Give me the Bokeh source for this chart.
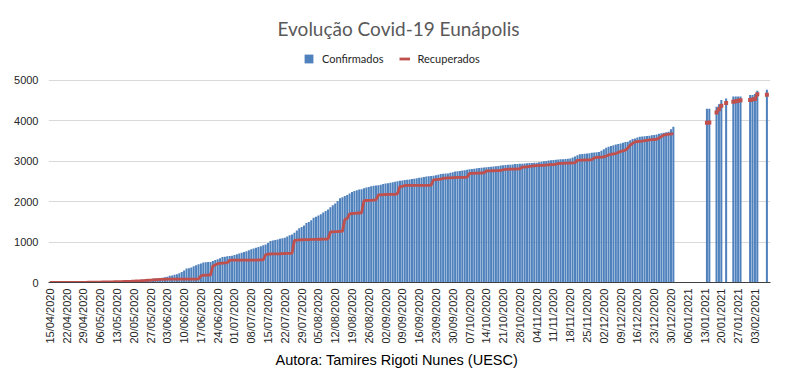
import math
import numpy as np
import pandas as pd
from bokeh.plotting import figure
from bokeh.models import FixedTicker, Legend, LegendItem, Label, ColumnDataSource, Title
from bokeh.embed import file_html
from bokeh.resources import INLINE

# ---------------- data ----------------
data_inicial = "15/04/2020"

# daily cumulative values from 15/04/2020 to 31/12/2020
confirmados = [
    1, 1, 1, 1, 2, 2, 2, 3, 3, 3,
    4, 4, 5, 5, 6, 7, 8, 9, 10, 12,
    13, 15, 16, 18, 20, 22, 24, 26, 28, 30,
    33, 36, 40, 44, 48, 52, 57, 62, 66, 70,
    75, 80, 86, 92, 98, 104, 112, 120, 130, 140,
    164, 175, 190, 205, 230, 262, 300, 344, 355, 369,
    400, 430, 451, 470, 492, 500, 505, 508, 530, 555,
    574, 600, 631, 640, 650, 656, 665, 680, 697, 715,
    735, 754, 775, 798, 820, 840, 860, 877, 900, 925,
    943, 975, 1025, 1040, 1055, 1066, 1080, 1095, 1107, 1140,
    1170, 1189, 1230, 1287, 1340, 1375, 1410, 1470, 1500, 1540,
    1600, 1630, 1660, 1692, 1730, 1770, 1808, 1860, 1910, 1958,
    2020, 2083, 2110, 2140, 2167, 2200, 2240, 2267, 2285, 2300,
    2310, 2330, 2350, 2365, 2380, 2392, 2400, 2410, 2417, 2435,
    2450, 2458, 2470, 2483, 2495, 2505, 2517, 2525, 2535, 2542,
    2550, 2560, 2567, 2580, 2592, 2600, 2610, 2625, 2630, 2636,
    2642, 2655, 2670, 2683, 2690, 2697, 2700, 2715, 2730, 2745,
    2751, 2760, 2770, 2780, 2792, 2801, 2810, 2818, 2825, 2835,
    2842, 2848, 2855, 2860, 2868, 2872, 2876, 2885, 2893, 2900,
    2908, 2912, 2917, 2922, 2930, 2935, 2938, 2942, 2945, 2950,
    2955, 2960, 2963, 2967, 2975, 2990, 3000, 3010, 3020, 3025,
    3035, 3040, 3045, 3050, 3050, 3055, 3060, 3070, 3092, 3120,
    3150, 3175, 3180, 3186, 3192, 3200, 3210, 3217, 3225, 3233,
    3260, 3300, 3333, 3360, 3380, 3400, 3415, 3430, 3442, 3460,
    3475, 3483, 3520, 3550, 3567, 3590, 3608, 3615, 3620, 3625,
    3635, 3642, 3650, 3665, 3680, 3692, 3705, 3720, 3733, 3792, 3858,
]

recuperados = [
    0, 0, 0, 0, 0, 0, 0, 0, 0, 0,
    0, 0, 2, 3, 4, 5, 6, 7, 8, 9,
    10, 11, 12, 13, 14, 15, 16, 18, 20, 22,
    24, 26, 28, 30, 32, 35, 38, 41, 44, 48,
    52, 56, 60, 64, 68, 72, 75, 78, 80, 82,
    82, 82, 82, 82, 82, 82, 82, 82, 82, 83,
    83, 83, 90, 164, 180, 183, 183, 183, 410, 433,
    467, 475, 480, 485, 490, 550, 552, 552, 553, 553,
    555, 555, 555, 555, 555, 556, 556, 558, 558, 558,
    690, 700, 705, 708, 708, 710, 712, 715, 718, 720,
    720, 722, 1041, 1050, 1055, 1058, 1060, 1060, 1062, 1065,
    1065, 1068, 1070, 1070, 1072, 1075, 1075, 1250, 1255, 1260,
    1262, 1266, 1266, 1558, 1583, 1700, 1708, 1710, 1715, 1720,
    1725, 2025, 2030, 2033, 2035, 2040, 2045, 2167, 2170, 2175,
    2178, 2180, 2181, 2183, 2183, 2200, 2375, 2378, 2400, 2405,
    2405, 2405, 2405, 2405, 2405, 2405, 2405, 2405, 2405, 2410,
    2540, 2545, 2550, 2560, 2575, 2585, 2590, 2592, 2595, 2598,
    2600, 2600, 2602, 2604, 2606, 2700, 2702, 2704, 2706, 2708,
    2710, 2712, 2760, 2762, 2764, 2766, 2768, 2770, 2772, 2790,
    2801, 2803, 2805, 2807, 2808, 2810, 2812, 2855, 2859, 2862,
    2875, 2880, 2890, 2895, 2898, 2900, 2902, 2905, 2915, 2917,
    2920, 2930, 2945, 2950, 2952, 2955, 2956, 2958, 2960, 2965,
    3025, 3028, 3030, 3032, 3033, 3035, 3040, 3083, 3095, 3100,
    3105, 3108, 3130, 3158, 3170, 3185, 3192, 3220, 3242, 3260,
    3275, 3325, 3400, 3442, 3483, 3490, 3495, 3500, 3510, 3520,
    3530, 3535, 3540, 3545, 3575, 3610, 3650, 3660, 3670, 3675, 3683,
]

# 2021 reports (irregular dates)
datas_2021 = ["14/01/2021", "15/01/2021", "18/01/2021", "19/01/2021", "20/01/2021",
              "22/01/2021", "25/01/2021", "26/01/2021", "27/01/2021", "28/01/2021",
              "01/02/2021", "02/02/2021", "03/02/2021", "04/02/2021", "08/02/2021"]
confirmados_2021 = [4300, 4300, 4350, 4410, 4520, 4555, 4605, 4605, 4605, 4605,
                    4640, 4640, 4665, 4745, 4770]
recuperados_2021 = [3955, 3958, 4208, 4290, 4375, 4442, 4475, 4485, 4497, 4508,
                    4517, 4530, 4542, 4658, 4650]

rotulos_x = ["15/04/2020", "22/04/2020", "29/04/2020", "06/05/2020", "13/05/2020",
             "20/05/2020", "27/05/2020", "03/06/2020", "10/06/2020", "17/06/2020",
             "24/06/2020", "01/07/2020", "08/07/2020", "15/07/2020", "22/07/2020",
             "29/07/2020", "05/08/2020", "12/08/2020", "19/08/2020", "26/08/2020",
             "02/09/2020", "09/09/2020", "16/09/2020", "23/09/2020", "30/09/2020",
             "07/10/2020", "14/10/2020", "21/10/2020", "28/10/2020", "04/11/2020",
             "11/11/2020", "18/11/2020", "25/11/2020", "02/12/2020", "09/12/2020",
             "16/12/2020", "23/12/2020", "30/12/2020", "06/01/2021", "13/01/2021",
             "20/01/2021", "27/01/2021", "03/02/2021"]
rotulos_y = [0, 1000, 2000, 3000, 4000, 5000]

titulo = "Evolução Covid-19 Eunápolis"
autora = "Autora: Tamires Rigoti Nunes (UESC)"

# ---------------- build ----------------
t0 = pd.to_datetime(data_inicial, format="%d/%m/%Y")
def dia(s):
    return int((pd.to_datetime(s, format="%d/%m/%Y") - t0).days)

dias_main = list(range(len(confirmados)))
dias_2021 = [dia(s) for s in datas_2021]

bar_x = dias_main + dias_2021
bar_top = confirmados + confirmados_2021

n = max(dias_2021) + 1
rec_line = np.full(n, np.nan)
for d, v in zip(dias_main, recuperados):
    rec_line[d] = v
for d, v in zip(dias_2021, recuperados_2021):
    rec_line[d] = v

ticks = [dia(s) for s in rotulos_x]

BLUE = "#4f81bd"
RED = "#c0504d"

p = figure(width=779, height=372, x_range=(-0.54, 300.5), y_range=(0, 6980),
           output_backend="svg", toolbar_location=None,
           min_border_left=48, min_border_right=9, min_border_top=0,
           min_border_bottom=90)
p.outline_line_color = None
p.background_fill_color = "white"
p.border_fill_color = "white"

bars = p.vbar(x=bar_x, top=bar_top, width=0.85, fill_color=BLUE, line_color=None)
src = ColumnDataSource(dict(x=np.arange(n), y=rec_line))
line = p.line("x", "y", source=src, line_color=RED, line_width=2.8)
p.scatter(x=dias_2021, y=recuperados_2021, marker="square", size=4,
          fill_color=RED, line_color=None)

p.xgrid.visible = False
p.ygrid.grid_line_color = "#d9d9d9"
p.ygrid.grid_line_width = 1

ya = p.yaxis[0]
ya.ticker = FixedTicker(ticks=rotulos_y)
ya.axis_line_color = None
ya.major_tick_line_color = None
ya.minor_tick_line_color = None
ya.major_label_text_font = "Liberation Sans"
ya.major_label_text_font_size = "11px"
ya.major_label_text_color = "#262626"
ya.major_label_standoff = 4

xa = p.xaxis[0]
xa.ticker = FixedTicker(ticks=ticks)
xa.major_label_overrides = {t: s for t, s in zip(ticks, rotulos_x)}
xa.major_label_orientation = math.pi / 2
xa.axis_line_color = "#404040"
xa.axis_line_width = 1
xa.major_tick_line_color = None
xa.minor_tick_line_color = None
xa.major_tick_out = 0
xa.major_label_standoff = 6
xa.major_label_text_font = "Liberation Sans"
xa.major_label_text_font_size = "11px"
xa.major_label_text_color = "#262626"

p.add_layout(Label(x=145.4, y=6287, text=titulo, text_align="center",
                   text_baseline="middle", text_font="Lato",
                   text_font_size="19px", text_color="#595959"))

p.add_layout(Title(text=autora, align="left", offset=227, standoff=7,
                   text_font="Liberation Sans", text_font_size="14.5px",
                   text_font_style="normal", text_color="#000000"), "below")

legend = Legend(items=[LegendItem(label="Confirmados", renderers=[bars]),
                       LegendItem(label="Recuperados", renderers=[line])],
                location=(255, 217), orientation="horizontal",
                border_line_color=None, background_fill_alpha=0,
                label_text_font="Lato", label_text_font_size="11px",
                label_text_color="#262626",
                glyph_width=11, glyph_height=11, label_standoff=8,
                spacing=15, padding=0, margin=0)
p.add_layout(legend)

open("out.html", "w").write(file_html(p, INLINE))
